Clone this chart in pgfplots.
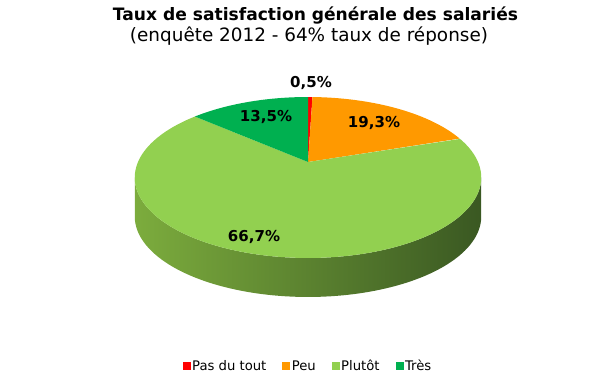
\documentclass[border=0pt]{standalone}
\usepackage{pgfplots}
\pgfplotsset{compat=1.18}
\usepackage{pgfplotstable}
\usepackage{fontspec}
\setmainfont{DejaVu Sans}
\definecolor{cRed}{HTML}{FF0000}
\definecolor{cOrange}{HTML}{FF9900}
\definecolor{cLight}{HTML}{92D050}
\definecolor{cDark}{HTML}{00B050}
\definecolor{sideL}{HTML}{7CAC3D}
\definecolor{sideM}{HTML}{5C8A30}
\definecolor{sideR}{HTML}{3A5822}
\pgfmathdeclarefunction{PX}{1}{\pgfmathparse{308+170*sin(#1)/(1+0.1925*cos(#1))}}
\pgfmathdeclarefunction{PY}{1}{\pgfmathparse{162-77.5*cos(#1)/(1+0.1925*cos(#1))}}
\pgfplotstableread{
value
0.5
19.3
66.7
13.5
}\piedata
\begin{document}
\begin{tikzpicture}
\useasboundingbox (0,0) rectangle (611pt,387pt);
\pgfplotstablegetelem{0}{value}\of\piedata \pgfmathsetmacro\vA{\pgfplotsretval}
\pgfplotstablegetelem{1}{value}\of\piedata \pgfmathsetmacro\vB{\pgfplotsretval}
\pgfplotstablegetelem{2}{value}\of\piedata \pgfmathsetmacro\vC{\pgfplotsretval}
\pgfplotstablegetelem{3}{value}\of\piedata \pgfmathsetmacro\vD{\pgfplotsretval}
\pgfmathsetmacro\tA{0}
\pgfmathsetmacro\tB{\tA+3.6*\vA}
\pgfmathsetmacro\tC{\tB+3.6*\vB}
\pgfmathsetmacro\tD{\tC+3.6*\vC}
\pgfmathsetmacro\tE{\tD+3.6*\vD}
\begin{axis}[
  hide axis, x=1pt, y=1pt, xmin=0, xmax=611, ymin=0, ymax=387,
  y dir=reverse, clip=false, scale only axis,
  legend style={at={(axis cs:308,366)}, anchor=center, draw=none, fill=none,
    legend columns=4, font=\fontsize{13.2}{15}\selectfont, inner sep=0pt,
    /tikz/every even column/.append style={column sep=14pt}},
]
% side
\addplot[draw=none, left color=sideL, middle color=sideM, right color=sideR,
  domain=0:2, samples=201, variable=\s, forget plot]
  ({PX(ifthenelse(\s<=1, 101.1+\s*157.8, 258.9-(\s-1)*157.8))},
   {PY(ifthenelse(\s<=1, 101.1+\s*157.8, 258.9-(\s-1)*157.8))+ifthenelse(\s<=1,0,39)});
% wedges
\addplot[draw=none, fill=cRed, domain=-0.05:1, samples=106, variable=\s, forget plot]
  ({ifthenelse(\s<0,308,PX(\tA+\s*(\tB-\tA)))},{ifthenelse(\s<0,162,PY(\tA+\s*(\tB-\tA)))});
\addplot[draw=none, fill=cOrange, domain=-0.05:1, samples=106, variable=\s, forget plot]
  ({ifthenelse(\s<0,308,PX(\tB+\s*(\tC-\tB)))},{ifthenelse(\s<0,162,PY(\tB+\s*(\tC-\tB)))});
\addplot[draw=none, fill=cLight, domain=-0.05:1, samples=206, variable=\s, forget plot]
  ({ifthenelse(\s<0,308,PX(\tC+\s*(\tD-\tC)))},{ifthenelse(\s<0,162,PY(\tC+\s*(\tD-\tC)))});
\addplot[draw=none, fill=cDark, domain=-0.05:1, samples=106, variable=\s, forget plot]
  ({ifthenelse(\s<0,308,PX(\tD+\s*(\tE-\tD)))},{ifthenelse(\s<0,162,PY(\tD+\s*(\tE-\tD)))});
% labels
\node[font=\bfseries\fontsize{15}{18}\selectfont] at (axis cs:311,83) {0,5\%};
\node[font=\bfseries\fontsize{15}{18}\selectfont] at (axis cs:374,123) {19,3\%};
\node[font=\bfseries\fontsize{15}{18}\selectfont] at (axis cs:266,117) {13,5\%};
\node[font=\bfseries\fontsize{15}{18}\selectfont] at (axis cs:254,237) {66,7\%};
% titles
\node[font=\bfseries\fontsize{17.1}{20}\selectfont] at (axis cs:315.5,16) {Taux de satisfaction générale des salariés};
\node[font=\fontsize{18.4}{21}\selectfont] at (axis cs:309,36) {(enquête 2012 - 64\% taux de réponse)};
% legend
\addlegendimage{legend image code/.code={\fill[cRed] (0pt,-3.5pt) rectangle (7pt,3.5pt);}}
\addlegendentry{Pas du tout}
\addlegendimage{legend image code/.code={\fill[cOrange] (0pt,-3.5pt) rectangle (7pt,3.5pt);}}
\addlegendentry{Peu}
\addlegendimage{legend image code/.code={\fill[cLight] (0pt,-3.5pt) rectangle (7pt,3.5pt);}}
\addlegendentry{Plutôt}
\addlegendimage{legend image code/.code={\fill[cDark] (0pt,-3.5pt) rectangle (7pt,3.5pt);}}
\addlegendentry{Très}
\end{axis}
\end{tikzpicture}
\end{document}
